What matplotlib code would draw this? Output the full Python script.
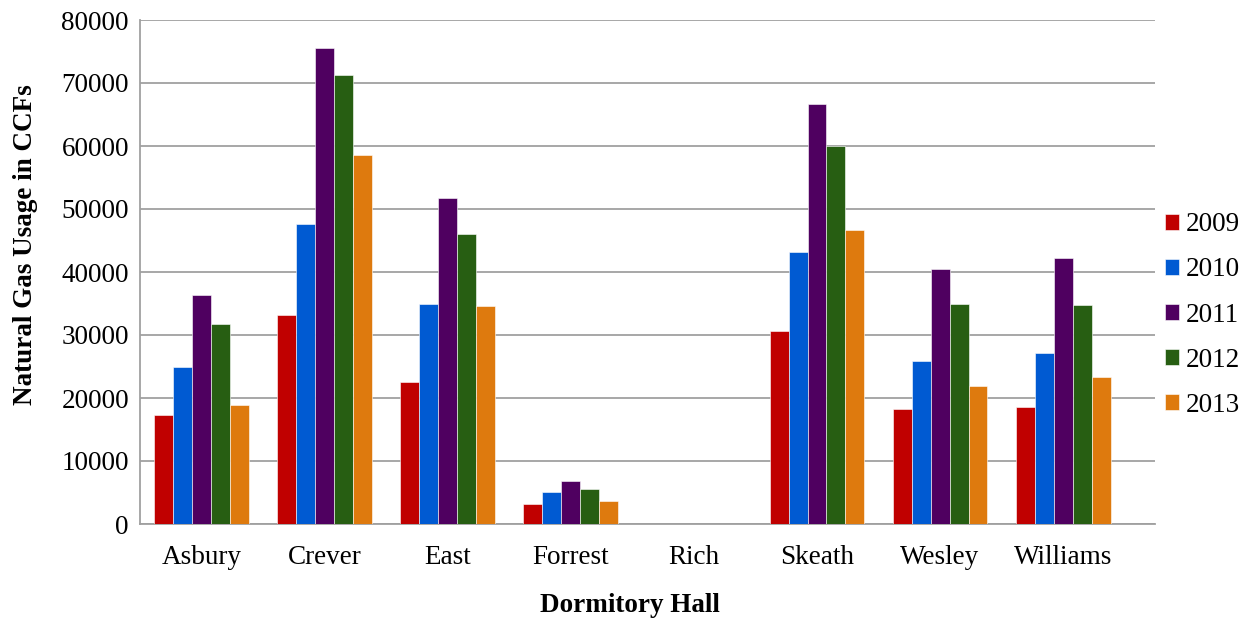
import numpy as np
import matplotlib.pyplot as plt

halls = ["Asbury", "Crever", "East", "Forrest", "Rich", "Skeath", "Wesley", "Williams"]
years = ["2009", "2010", "2011", "2012", "2013"]

usage_2009 = [17350, 33100, 22600, 3200, 0, 30600, 18200, 18600]
usage_2010 = [24900, 47600, 34900, 5100, 0, 43200, 25900, 27100]
usage_2011 = [36300, 75600, 51700, 6800, 0, 66700, 40500, 42300]
usage_2012 = [31700, 71200, 46100, 5600, 0, 60000, 34900, 34800]
usage_2013 = [18900, 58500, 34600, 3700, 0, 46600, 21900, 23400]

series = [usage_2009, usage_2010, usage_2011, usage_2012, usage_2013]
colors = ["#C00000", "#005AD2", "#4F0060", "#275E12", "#DE7A0E"]

plt.rcParams['font.family'] = ['Liberation Serif', 'DejaVu Serif']

fig = plt.figure(figsize=(12.53, 6.22), dpi=100)
ax = fig.add_axes([140/1253, 1 - 524/622, 1015/1253, 504/622])

x = np.arange(len(halls))
w = 0.154
for i, (vals, col) in enumerate(zip(series, colors)):
    ax.bar(x + (i - 2) * w, vals, width=w, color=col, label=years[i],
           edgecolor="white", linewidth=0.4, zorder=3)

# the plot area runs a bit past the last group, as in the original
ax.set_xlim(-0.5, 7.746)
ax.set_ylim(0, 80000)
ax.set_yticks(np.arange(0, 80001, 10000))
ax.set_xticks(x)
ax.set_xticklabels(halls)
ax.tick_params(axis='both', length=0, labelsize=19.5)
ax.tick_params(axis='x', pad=15)
ax.tick_params(axis='y', pad=8)

ax.grid(axis='y', color="#A0A0A0", linewidth=1.3, zorder=0)
for s in ["top", "right"]:
    ax.spines[s].set_visible(False)
for s in ["left", "bottom"]:
    ax.spines[s].set_color("#A0A0A0")
    ax.spines[s].set_linewidth(1.3)

ax.set_ylabel("Natural Gas Usage in CCFs", fontsize=19.5, fontweight='bold')
ax.yaxis.set_label_coords(-0.100, 0.554)
ax.set_xlabel("Dormitory Hall", fontsize=19.5, fontweight='bold')
ax.xaxis.set_label_coords(0.483, -0.137)

fig.legend(loc='center left', bbox_to_anchor=(1165/1253, 1 - 315/622),
           frameon=False, fontsize=19.5, handlelength=0.5, handleheight=0.5,
           handletextpad=0.25, labelspacing=0.74, borderpad=0, borderaxespad=0)

fig.savefig("out.png", dpi=100)
